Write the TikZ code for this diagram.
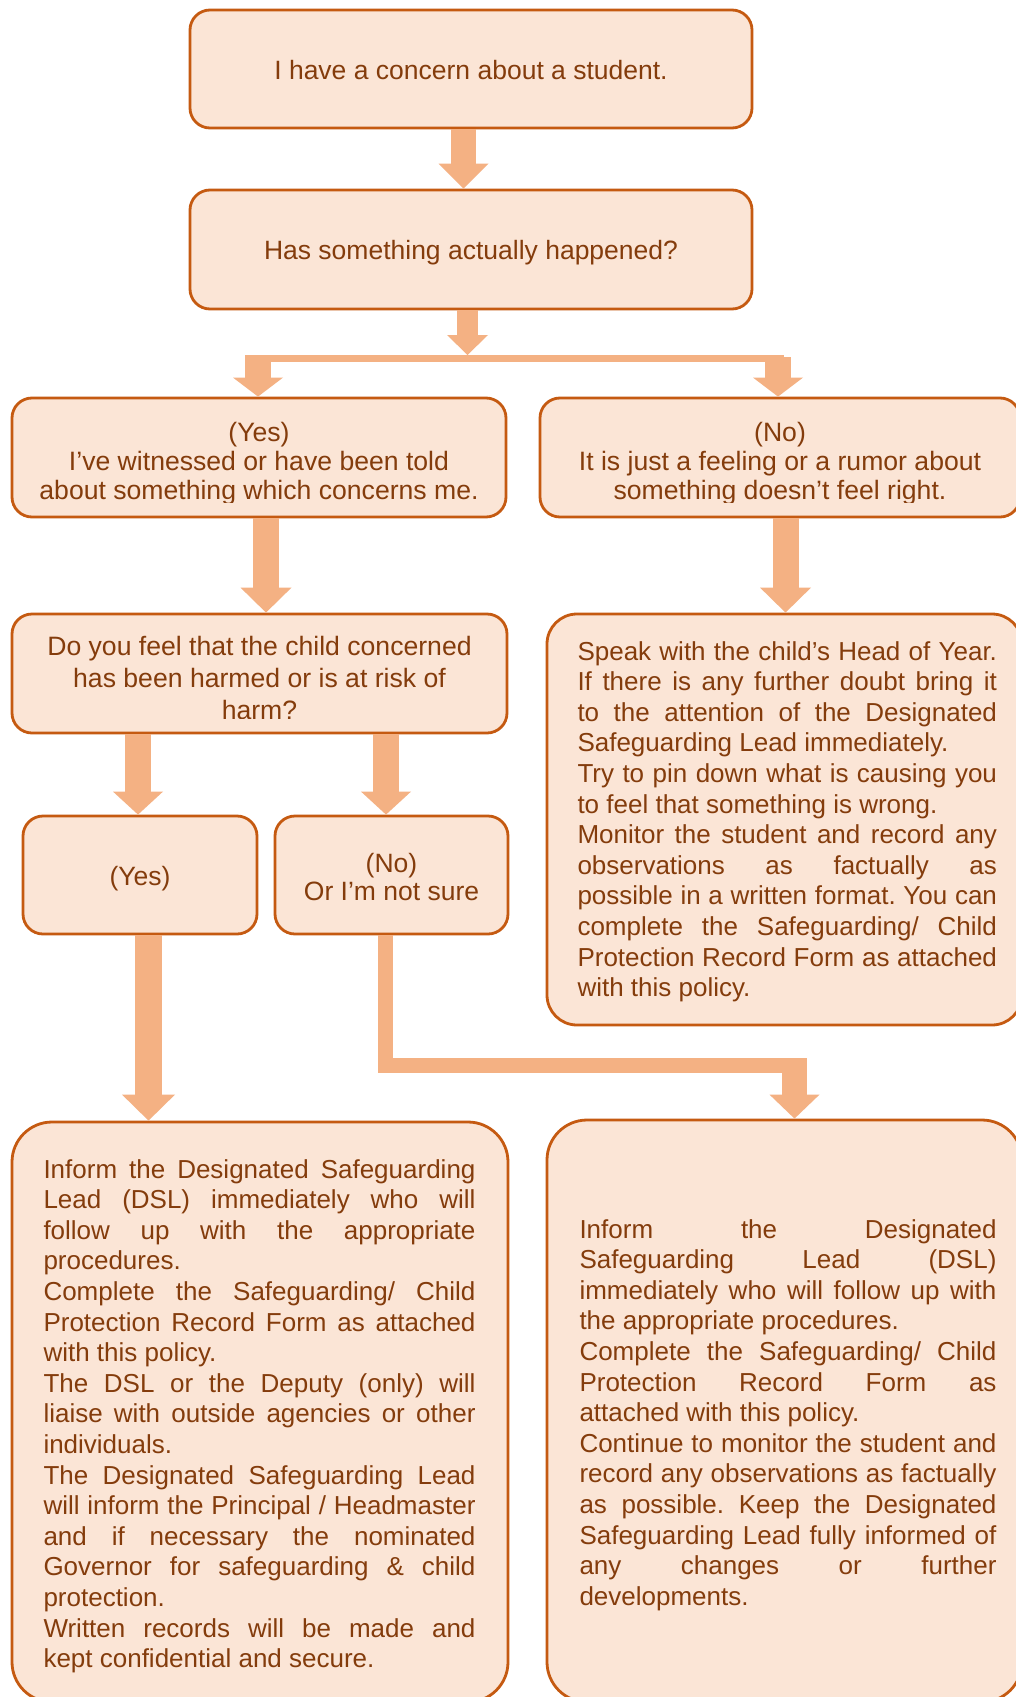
\documentclass[tikz,border=0pt]{standalone}
\usepackage{fontspec}
\setmainfont{Liberation Sans}
\usetikzlibrary{arrows.meta}
\frenchspacing
\definecolor{boxfill}{HTML}{FBE5D6}
\definecolor{boxline}{HTML}{C55A11}
\definecolor{boxtext}{HTML}{843C0C}
\definecolor{arrowfill}{HTML}{F4B183}
\newcommand{\jpar}[2]{\parbox[t]{#1}{\fontsize{26}{30.6}\selectfont\frenchspacing\parindent=0pt\hyphenpenalty=10000\exhyphenpenalty=10000\tolerance=10000\pretolerance=-1 #2}}
\newcommand{\cpar}[4]{\parbox[t]{#1}{\centering\fontsize{#2}{#3}\selectfont #4}}
\begin{document}
\begin{tikzpicture}[x=1pt,y=-1pt,
  panel/.style={draw=boxline, fill=boxfill, line width=2.8pt, rounded corners=#1, inner sep=0pt},
  panel/.default=20pt,
  txt/.style={text=boxtext, inner sep=0pt, anchor=base},
  jtxt/.style={text=boxtext, inner sep=0pt, anchor=base west},
  blockarr/.style n args={3}{draw=arrowfill, line width=#1, -{Triangle[width=#2, length=#3, line width=0pt]}},
  flowbar/.style={draw=arrowfill, line width=#1, line join=miter},
]
\fill[white] (0,0) rectangle (1016,1697);
\useasboundingbox (0,0) rectangle (1016,1697);

% boxes
\node[panel, minimum width=562pt, minimum height=118pt] (b1) at (471,69) {};
\node[panel, minimum width=562pt, minimum height=119pt] (b2) at (471,249.5) {};
\node[panel, minimum width=494pt, minimum height=119pt] (yes) at (259,457.5) {};
\node[panel, minimum width=480pt, minimum height=119pt] (no) at (780,457.5) {};
\node[panel, minimum width=495pt, minimum height=119pt] (q) at (259.5,673.5) {};
\node[panel=30pt, minimum width=475pt, minimum height=411pt] (b4) at (784.5,819.5) {};
\node[panel, minimum width=234pt, minimum height=118pt] (y2) at (140,875) {};
\node[panel, minimum width=233pt, minimum height=118pt] (n2) at (391.5,875) {};
\node[panel=40pt, minimum width=496pt, minimum height=580pt] (b5) at (260,1412) {};
\node[panel=40pt, minimum width=475pt, minimum height=582pt] (b6) at (784.5,1411) {};

% texts
\node[txt, font=\fontsize{26.5}{30}\selectfont] (t1) at (471,79.5) {I have a concern about a student.};
\node[txt, font=\fontsize{26.5}{30}\selectfont] (t2) at (471,259.3) {Has something actually happened?};

\begin{scope}
\clip (yes.north west) rectangle ([yshift=16pt]yes.south east);
\node[txt] (tyes) at (259,441) {\cpar{480pt}{26.6}{29}{(Yes)\\I’ve witnessed or have been told\\about something which concerns me.}};
\end{scope}
\begin{scope}
\clip (no.north west) rectangle ([yshift=16pt]no.south east);
\node[txt] (tno) at (780,441) {\cpar{470pt}{26.6}{29}{(No)\\It is just a feeling or a rumor about\\something doesn’t feel right.}};
\end{scope}
\begin{scope}
\clip (q.north west) rectangle ([yshift=16pt]q.south east);
\node[txt] (tq) at (259.5,655) {\cpar{470pt}{26.6}{32}{Do you feel that the child concerned\\has been harmed or is at risk of\\harm?}};
\end{scope}

\node[txt, font=\fontsize{26.5}{30}\selectfont] (ty2) at (140,885) {(Yes)};
\node[txt] (tn2) at (391.5,872) {\cpar{220pt}{26.5}{28}{(No)\\Or I’m not sure}};

\node[jtxt] (t4) at (577.3,660) {\jpar{419.5pt}{Speak with the child’s Head of Year.\linebreak If there is any further doubt bring it\linebreak to the attention of the Designated\linebreak Safeguarding Lead immediately.\par Try to pin down what is causing you\linebreak to feel that something is wrong.\par Monitor the student and record any\linebreak observations as factually as\linebreak possible in a written format. You can\linebreak complete the Safeguarding/ Child\linebreak Protection Record Form as attached\linebreak with this policy.}};

\node[jtxt] (t5) at (43.3,1178) {\jpar{432pt}{Inform the Designated Safeguarding\linebreak Lead (DSL) immediately who will\linebreak follow up with the appropriate\linebreak procedures.\par Complete the Safeguarding/ Child\linebreak Protection Record Form as attached\linebreak with this policy.\par The DSL or the Deputy (only) will\linebreak liaise with outside agencies or other\linebreak individuals.\par The Designated Safeguarding Lead\linebreak will inform the Principal / Headmaster\linebreak and if necessary the nominated\linebreak Governor for safeguarding \& child\linebreak protection.\par Written records will be made and\linebreak kept confidential and secure.}};

\node[jtxt] (t6) at (579.3,1238) {\jpar{417pt}{Inform the Designated\linebreak Safeguarding Lead (DSL)\linebreak immediately who will follow up with\linebreak the appropriate procedures.\par Complete the Safeguarding/ Child\linebreak Protection Record Form as\linebreak attached with this policy.\par Continue to monitor the student and\linebreak record any observations as factually\linebreak as possible. Keep the Designated\linebreak Safeguarding Lead fully informed of\linebreak any changes or further\linebreak developments.}};

% connectors
\draw[blockarr={25pt}{50pt}{25pt}] ([xshift=-7.5pt]b1.south) -- ([xshift=-7.5pt]b2.north);
\coordinate (split) at (467.5,355);
\draw[blockarr={21pt}{41pt}{20pt}] ([xshift=-3.5pt]b2.south) -- (split);
\coordinate (bl) at (245,358.5);
\coordinate (br) at (784,358.5);
\draw[flowbar=7pt] (bl) -- (br);
\coordinate (sl) at (258,357);
\coordinate (sr) at (778,357);
\draw[blockarr={26pt}{50pt}{19pt}] (sl) -- (sl |- yes.north);
\draw[blockarr={26pt}{50pt}{19pt}] (sr) -- (sr |- no.north);
\draw[blockarr={26pt}{51pt}{25pt}] ([xshift=7pt]yes.south) -- ([xshift=6.5pt]q.north);
\draw[blockarr={26pt}{51pt}{25pt}] ([xshift=5.5pt]no.south) -- ([xshift=1pt]b4.north);
\draw[blockarr={26pt}{50pt}{23pt}] ([xshift=-121.5pt]q.south) -- ([xshift=-2pt]y2.north);
\draw[blockarr={26pt}{50pt}{23pt}] ([xshift=126.5pt]q.south) -- ([xshift=-5.5pt]n2.north);
\draw[blockarr={27pt}{53pt}{26pt}] ([xshift=8.5pt]y2.south) -- ([xshift=-111.5pt]b5.north);
\coordinate (hk) at (807,1065.5);
\coordinate (hd) at (794.5,1058);
\draw[flowbar=15pt] ([xshift=-6pt]n2.south) |- (hk);
\draw[blockarr={25pt}{50pt}{24pt}] (hd) -- (hd |- b6.north);
\end{tikzpicture}
\end{document}
